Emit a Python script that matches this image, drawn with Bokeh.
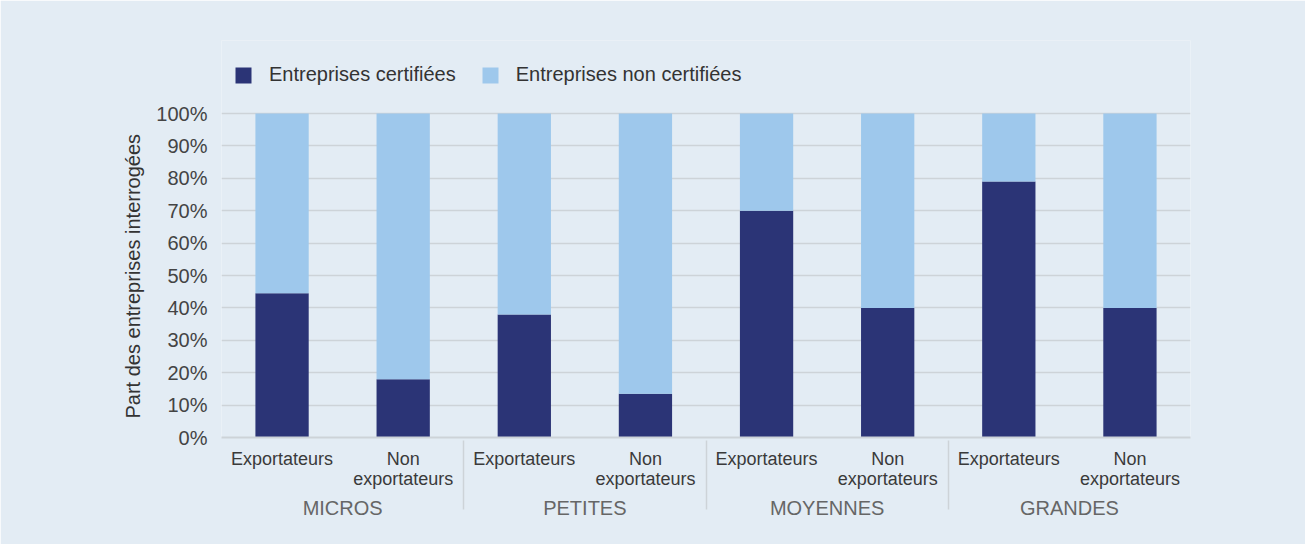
from bokeh.plotting import figure
from bokeh.models import FactorRange, Range1d, Legend, LegendItem, NumeralTickFormatter, FixedTicker, Title
from bokeh.embed import file_html
from bokeh.resources import INLINE

groups = ["MICROS", "PETITES", "MOYENNES", "GRANDES"]
subs = ["Exportateurs", "Non\nexportateurs"]
certifiees = [0.445, 0.18, 0.38, 0.135, 0.70, 0.40, 0.79, 0.40]
non_certifiees = [1 - v for v in certifiees]
series_names = ["Entreprises certifiées", "Entreprises non certifiées"]
y_label = "Part des entreprises interrogées"
y_ticks = [i / 10 for i in range(11)]

factors = [(g, s) for g in groups for s in subs]
data = dict(x=factors, cert=certifiees, noncert=non_certifiees)

FONT = "Liberation Sans"
BG = "#e3ecf4"

# frame spans y 40..437 px; 100% sits at 113 px (324 px per unit)
p = figure(width=1305, height=544, output_backend="svg", toolbar_location=None,
           x_range=FactorRange(*factors, group_padding=0, subgroup_padding=0, range_padding=0),
           y_range=Range1d(0, (437 - 40) / 324))
p.min_border_left = 221
p.min_border_right = 115
p.min_border_top = 40
p.min_border_bottom = 107
p.background_fill_color = BG
p.border_fill_color = BG
p.outline_line_color = None

r = p.vbar_stack(["cert", "noncert"], x="x", width=0.44, source=data,
                 color=["#2b3476", "#9ec8ec"], line_color=None)

p.xgrid.grid_line_color = None
p.ygrid.grid_line_color = "#cdd3d8"
p.ygrid.grid_line_width = 1.5
p.ygrid.ticker = FixedTicker(ticks=y_ticks)

p.yaxis.ticker = FixedTicker(ticks=y_ticks)
p.yaxis.formatter = NumeralTickFormatter(format="0%")
p.yaxis.axis_line_color = None
p.yaxis.major_tick_line_color = None
p.yaxis.minor_tick_line_color = None
p.yaxis.major_label_text_font = FONT
p.yaxis.major_label_text_font_size = "20px"
p.yaxis.major_label_text_color = "#444444"
p.yaxis.major_label_standoff = 8

ytitle = Title(text=y_label, align="left", offset=19, standoff=19,
               text_font=FONT, text_font_size="20px", text_font_style="normal",
               text_color="#333333")
p.add_layout(ytitle, "left")

xa = p.xaxis[0]
xa.axis_line_color = "#cdd3d8"
xa.axis_line_width = 2
xa.major_tick_line_color = None
xa.minor_tick_line_color = None
xa.major_label_text_font = FONT
xa.major_label_text_font_size = "18px"
xa.major_label_text_line_height = 1.0
xa.major_label_text_color = "#3a3a3a"
xa.major_label_standoff = 5
xa.group_text_font = FONT
xa.group_text_font_size = "20px"
xa.group_text_font_style = "normal"
xa.group_text_color = "#666666"
xa.separator_line_color = "#cdd3d8"
xa.separator_line_width = 1.5

legend = Legend(items=[LegendItem(label=series_names[0], renderers=[r[0]]),
                       LegendItem(label=series_names[1], renderers=[r[1]])],
                orientation="horizontal", location=(12, 351),
                label_text_font=FONT, label_text_font_size="20px", label_text_color="#333333",
                glyph_width=20, glyph_height=20, spacing=24, label_standoff=16,
                background_fill_alpha=0, border_line_color=None, margin=0, padding=0)
p.add_layout(legend, "center")

open("out.html", "w").write(file_html(p, INLINE))
